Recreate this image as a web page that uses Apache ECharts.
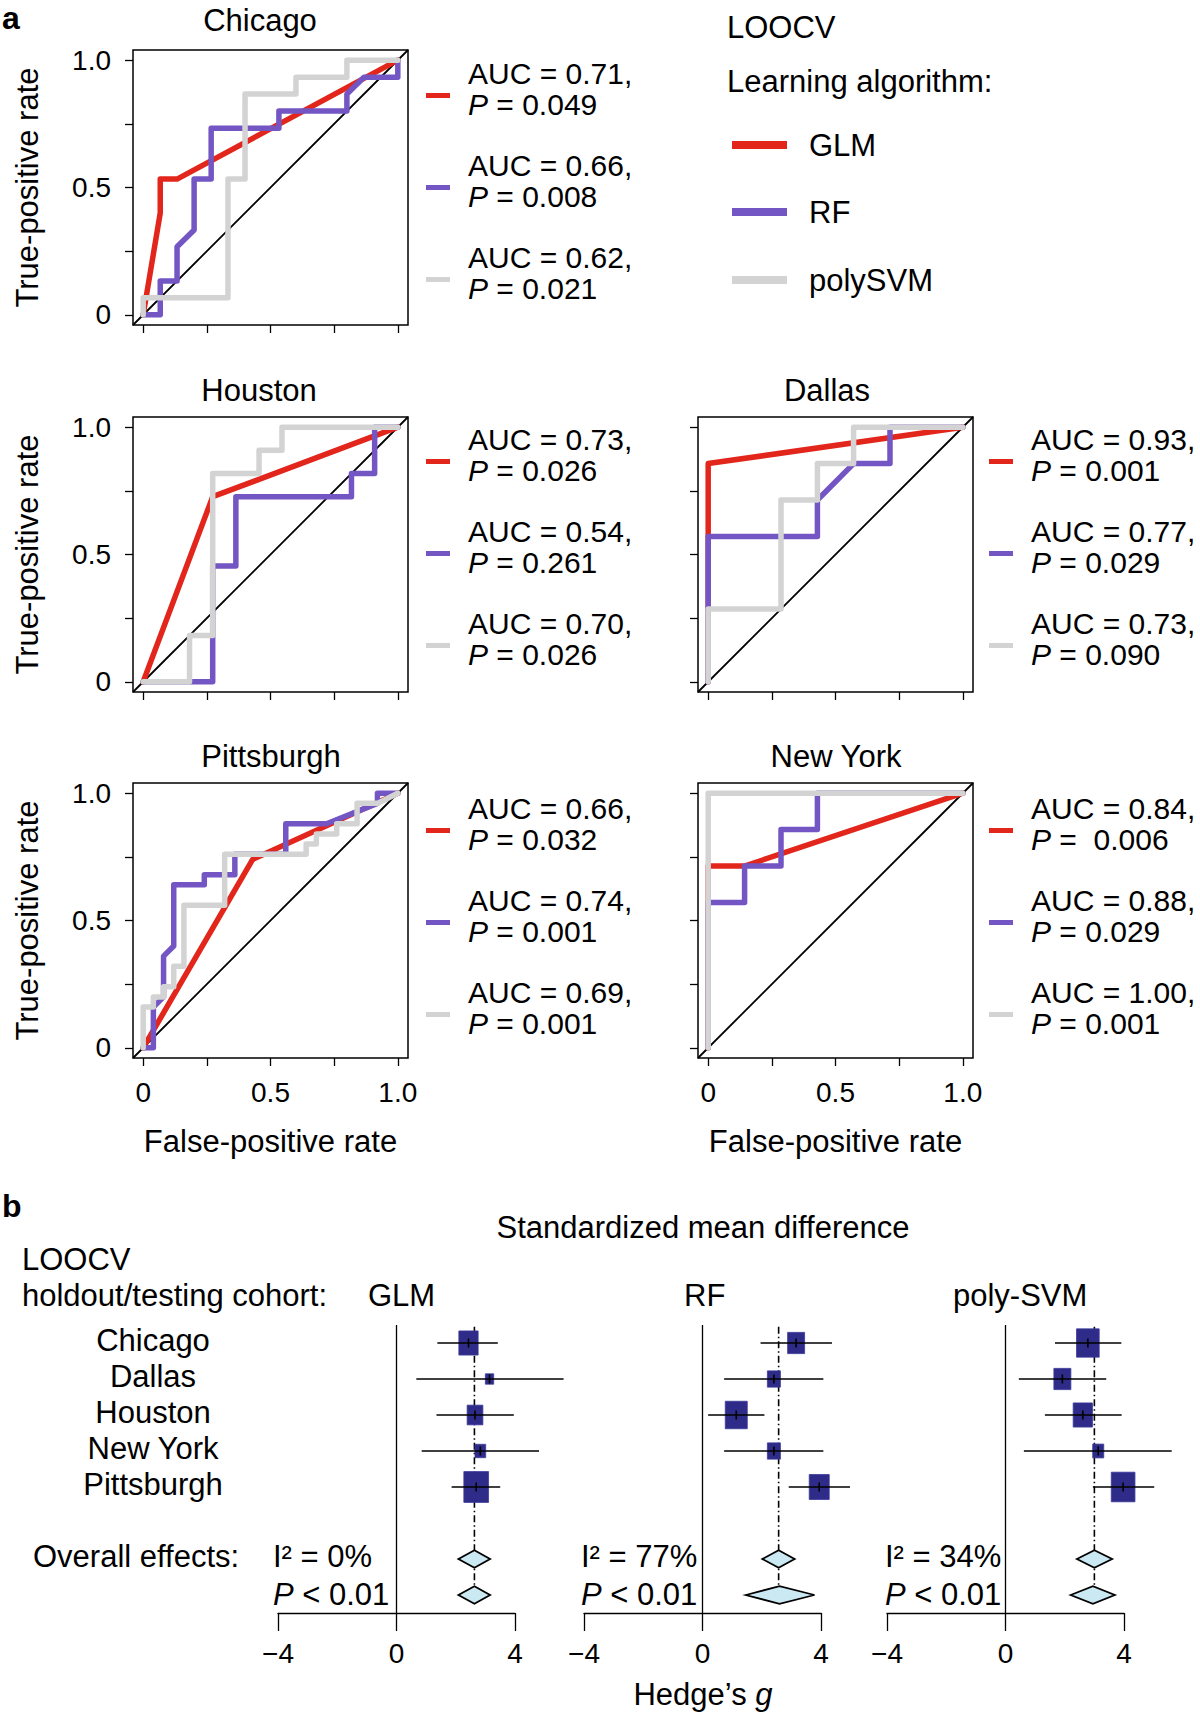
<!DOCTYPE html>
<html><head><meta charset="utf-8">
<script src="https://cdn.jsdelivr.net/npm/echarts@6/dist/echarts.min.js"></script>
<style>html,body{margin:0;padding:0;background:#fff}#c{width:1200px;height:1714px}</style>
</head><body><div id="c"></div>
<script>
// ---------------- DATA (panel a: ROC curves, [FPR, TPR]) ----------------
const rocCities = ['Chicago', 'Houston', 'Dallas', 'Pittsburgh', 'New York'];
const algorithms = ['GLM', 'RF', 'polySVM'];

const chicagoGLM = [[0,0],[0.067,0.4],[0.067,0.533],[0.133,0.533],[1,1]];
const chicagoRF  = [[0,0],[0.067,0],[0.067,0.133],[0.133,0.133],[0.133,0.267],[0.2,0.333],[0.2,0.533],[0.267,0.533],[0.267,0.733],[0.533,0.733],[0.533,0.8],[0.8,0.8],[0.8,0.867],[0.867,0.933],[1,0.933],[1,1]];
const chicagoSVM = [[0,0],[0,0.067],[0.333,0.067],[0.333,0.533],[0.4,0.533],[0.4,0.867],[0.6,0.867],[0.6,0.933],[0.8,0.933],[0.8,1],[1,1]];

const houstonGLM = [[0,0],[0.273,0.727],[1,1]];
const houstonRF  = [[0,0],[0.273,0],[0.273,0.455],[0.364,0.455],[0.364,0.727],[0.818,0.727],[0.818,0.818],[0.909,0.818],[0.909,1],[1,1]];
const houstonSVM = [[0,0],[0.182,0],[0.182,0.182],[0.273,0.182],[0.273,0.818],[0.455,0.818],[0.455,0.909],[0.545,0.909],[0.545,1],[1,1]];

const dallasGLM = [[0,0],[0,0.857],[1,1]];
const dallasRF  = [[0,0],[0,0.571],[0.429,0.571],[0.429,0.714],[0.571,0.857],[0.714,0.857],[0.714,1],[1,1]];
const dallasSVM = [[0,0],[0,0.286],[0.286,0.286],[0.286,0.714],[0.429,0.714],[0.429,0.857],[0.571,0.857],[0.571,1],[1,1]];

const pittsburghGLM = [[0,0],[0.43,0.74],[1,1]];
const pittsburghRF  = [[0,0],[0.04,0],[0.04,0.16],[0.08,0.2],[0.08,0.36],[0.12,0.4],[0.12,0.64],[0.24,0.64],[0.24,0.68],[0.36,0.68],[0.36,0.76],[0.56,0.76],[0.56,0.88],[0.72,0.88],[0.92,0.96],[0.92,1],[1,1]];
const pittsburghSVM = [[0,0],[0,0.16],[0.04,0.16],[0.04,0.2],[0.08,0.2],[0.08,0.24],[0.12,0.24],[0.12,0.32],[0.16,0.32],[0.16,0.56],[0.32,0.56],[0.32,0.76],[0.64,0.76],[0.64,0.8],[0.68,0.8],[0.68,0.84],[0.76,0.84],[0.76,0.88],[0.84,0.88],[0.84,0.96],[0.92,0.96],[1,1]];

const newYorkGLM = [[0,0],[0,0.714],[0.143,0.714],[1,1]];
const newYorkRF  = [[0,0],[0,0.571],[0.143,0.571],[0.143,0.714],[0.286,0.714],[0.286,0.857],[0.429,0.857],[0.429,1],[1,1]];
const newYorkSVM = [[0,0],[0,1],[1,1]];

const chicagoAUC = ['0.71','0.66','0.62'];    const chicagoP = ['0.049','0.008','0.021'];
const houstonAUC = ['0.73','0.54','0.70'];    const houstonP = ['0.026','0.261','0.026'];
const dallasAUC = ['0.93','0.77','0.73'];     const dallasP = ['0.001','0.029','0.090'];
const pittsburghAUC = ['0.66','0.74','0.69']; const pittsburghP = ['0.032','0.001','0.001'];
const newYorkAUC = ['0.84','0.88','1.00'];    const newYorkP = [' 0.006','0.029','0.001'];

const rocTickValues = [0, 0.25, 0.5, 0.75, 1];
const rocLabelValues = [0, 0.5, 1];

// ---------------- DATA (panel b: forest plots, Hedge's g) ----------------
const cohorts = ['Chicago', 'Dallas', 'Houston', 'New York', 'Pittsburgh'];
const forestModels = ['GLM', 'RF', 'poly-SVM'];
const glmEffect = [2.43, 3.14, 2.65, 2.83, 2.69];
const glmLower  = [1.38, 0.67, 1.35, 0.85, 1.86];
const glmUpper  = [3.42, 5.64, 3.96, 4.81, 3.50];
const glmWeight = [26.3, 4.9, 17.5, 8.1, 43.1];
const rfEffect  = [3.16, 2.41, 1.14, 2.41, 3.94];
const rfLower   = [1.96, 0.73, 0.19, 0.73, 2.91];
const rfUpper   = [4.37, 4.08, 2.09, 4.08, 4.98];
const rfWeight  = [20.4, 12.0, 34.2, 12.0, 28.3];
const svmEffect = [2.78, 1.92, 2.61, 3.13, 3.97];
const svmLower  = [1.67, 0.45, 1.33, 0.62, 2.95];
const svmUpper  = [3.91, 3.40, 3.92, 5.61, 5.02];
const svmWeight = [36.4, 20.4, 26.3, 8.6, 39.7];
// overall effects: [lower, estimate, upper] for fixed and random models
const glmOverall = [[2.09, 2.63, 3.16], [2.09, 2.63, 3.16]];
const rfOverall  = [[2.02, 2.57, 3.11], [1.46, 2.60, 3.78]];
const svmOverall = [[2.41, 3.00, 3.60], [2.20, 2.95, 3.69]];
const heterogeneity = ['0%', '77%', '34%'];

// ---------------- STYLE / LAYOUT ----------------
const FF = '"Liberation Sans", Arial, Helvetica, sans-serif';
const FS = 31;
const algColors = ['#e2261c', '#7356c3', '#d3d3d3'];
const boxFill = '#2e2c88';
const diamondFill = '#cbe9f3';

const rocGrids = [
  {left: 133, top: 50},   // Chicago
  {left: 133, top: 417},  // Houston
  {left: 698, top: 417},  // Dallas
  {left: 133, top: 783},  // Pittsburgh
  {left: 698, top: 783}   // New York
];
const rocSize = 275;
const rocTitles = [[260, 20], [259, 390], [827, 390], [271, 756], [836, 756]];
const legendPos = [[426, 58], [426, 424], [989, 424], [426, 793], [989, 793]];
const forestLefts = [278, 584, 887];
const forestTop = 1325, forestRowH = 36, forestWidth = 237;

const rocSeriesData = [
  [chicagoGLM, chicagoRF, chicagoSVM],
  [houstonGLM, houstonRF, houstonSVM],
  [dallasGLM, dallasRF, dallasSVM],
  [pittsburghGLM, pittsburghRF, pittsburghSVM],
  [newYorkGLM, newYorkRF, newYorkSVM]
];
const rocAUC = [chicagoAUC, houstonAUC, dallasAUC, pittsburghAUC, newYorkAUC];
const rocP = [chicagoP, houstonP, dallasP, pittsburghP, newYorkP];

const forestStudies = [
  [glmEffect, glmLower, glmUpper, glmWeight],
  [rfEffect, rfLower, rfUpper, rfWeight],
  [svmEffect, svmLower, svmUpper, svmWeight]
];
const forestOverall = [glmOverall, rfOverall, svmOverall];

// ---------------- BUILD OPTION ----------------
const grid = [], xAxis = [], yAxis = [], series = [], legend = [], graphic = [];
const font = (extra) => (extra ? extra + ' ' : '') + FS + 'px ' + FF;

function rocLabel(v) { return v === 0 ? '0' : v.toFixed(1); }

rocCities.forEach((city, i) => {
  const g = rocGrids[i];
  const bottomRow = i >= 3;
  const leftCol = (i === 0 || i === 1 || i === 3);
  grid.push({left: g.left, top: g.top, width: rocSize, height: rocSize,
    show: true, borderColor: '#000', borderWidth: 1.5, backgroundColor: 'transparent'});
  xAxis.push({
    type: 'value', gridIndex: i, min: -0.04, max: 1.04, position: 'bottom',
    axisLine: {show: false, onZero: false}, splitLine: {show: false},
    axisTick: {show: true, inside: false, length: 8, lineStyle: {color: '#000', width: 1.3}, customValues: rocTickValues},
    axisLabel: {show: bottomRow, customValues: rocLabelValues, formatter: rocLabel, fontSize: 28, color: '#000', fontFamily: FF, margin: 20},
    name: bottomRow ? 'False-positive rate' : '', nameLocation: 'middle', nameGap: 68,
    nameTextStyle: {fontSize: FS, color: '#000', fontFamily: FF}
  });
  yAxis.push({
    type: 'value', gridIndex: i, min: -0.04, max: 1.04, position: 'left',
    axisLine: {show: false, onZero: false}, splitLine: {show: false},
    axisTick: {show: true, inside: false, length: 8, lineStyle: {color: '#000', width: 1.3}, customValues: rocTickValues},
    axisLabel: {show: leftCol, customValues: rocLabelValues, formatter: rocLabel, fontSize: 28, color: '#000', fontFamily: FF, margin: 22},
    name: leftCol ? 'True-positive rate' : '', nameLocation: 'middle', nameGap: 90,
    nameTextStyle: {fontSize: FS, color: '#000', fontFamily: FF}
  });
  // diagonal reference
  series.push({type: 'line', name: 'diag' + i, xAxisIndex: i, yAxisIndex: i,
    data: [[-0.04, -0.04], [1.04, 1.04]], showSymbol: false, silent: true, z: 1,
    lineStyle: {color: '#000', width: 1.8}, itemStyle: {color: '#000'}});
  const names = [];
  algorithms.forEach((alg, j) => {
    const nm = 'AUC = ' + rocAUC[i][j] + ',\nP = ' + rocP[i][j];
    names.push(nm);
    series.push({type: 'line', name: nm, xAxisIndex: i, yAxisIndex: i,
      data: rocSeriesData[i][j], showSymbol: false, silent: true, z: 2 + j,
      color: algColors[j],
      lineStyle: {color: algColors[j], width: 5.5, cap: 'round', join: 'round'}});
  });
  legend.push({
    data: names, orient: 'vertical', left: legendPos[i][0], top: legendPos[i][1],
    padding: 0, itemGap: 17, itemWidth: 24, itemHeight: 5, icon: 'rect', selectedMode: false,
    formatter: n => n.replace('\nP', '\n{i|P}'),
    textStyle: {fontSize: 30, lineHeight: 31, color: '#000', fontFamily: FF, padding: [0, 0, 13, 13],
      rich: {i: {fontStyle: 'italic', fontSize: 30, lineHeight: 31, color: '#000', fontFamily: FF}}}
  });
  graphic.push({type: 'text', style: {text: city, x: rocTitles[i][0], y: rocTitles[i][1],
    font: font(), fill: '#000', align: 'center', verticalAlign: 'middle'}});
});

// Algorithm key (top right)
graphic.push({type: 'text', style: {text: 'LOOCV', x: 727, y: 27, font: font(), fill: '#000', verticalAlign: 'middle'}});
graphic.push({type: 'text', style: {text: 'Learning algorithm:', x: 727, y: 81, font: font(), fill: '#000', verticalAlign: 'middle'}});
const keyY = [145, 212, 280];
algorithms.forEach((alg, j) => {
  graphic.push({type: 'line', shape: {x1: 732, y1: keyY[j], x2: 787, y2: keyY[j]}, style: {stroke: algColors[j], lineWidth: 8}});
  graphic.push({type: 'text', style: {text: alg, x: 809, y: keyY[j], font: font(), fill: '#000', verticalAlign: 'middle'}});
});

// Panel letters
graphic.push({type: 'text', style: {text: 'a', x: 2, y: 18, font: 'bold 32px ' + FF, fill: '#000', verticalAlign: 'middle'}});
graphic.push({type: 'text', style: {text: 'b', x: 2, y: 1206, font: 'bold 32px ' + FF, fill: '#000', verticalAlign: 'middle'}});

// ---------------- FOREST PLOTS ----------------
function renderStudy(params, api) {
  const y = api.value(3);
  const c = api.coord([api.value(0), y]);
  const lo = api.coord([api.value(1), y]);
  const hi = api.coord([api.value(2), y]);
  const w = 3.76 * Math.sqrt(api.value(4));
  const h = 1.25 * w;
  return {type: 'group', children: [
    {type: 'rect', shape: {x: c[0] - w / 2, y: c[1] - h / 2, width: w, height: h}, style: {fill: boxFill, stroke: '#3b3a9a', lineWidth: 0.8}},
    {type: 'line', shape: {x1: lo[0], y1: c[1], x2: hi[0], y2: c[1]}, style: {stroke: '#000', lineWidth: 1.6}},
    {type: 'line', shape: {x1: c[0], y1: c[1] - 4.5, x2: c[0], y2: c[1] + 4.5}, style: {stroke: '#000', lineWidth: 1.6}}
  ]};
}
function renderDiamond(params, api) {
  const y = api.value(3);
  const lo = api.coord([api.value(0), y]);
  const mu = api.coord([api.value(1), y]);
  const hi = api.coord([api.value(2), y]);
  const hh = 8.8;
  return {type: 'polygon', shape: {points: [[lo[0], mu[1]], [mu[0], mu[1] - hh], [hi[0], mu[1]], [mu[0], mu[1] + hh]]},
    style: {fill: diamondFill, stroke: '#000', lineWidth: 1.8}};
}
function minusFmt(v) { return v < 0 ? '\u2212' + Math.abs(v) : String(v); }

const studyRows = [0, 1, 2, 3, 4];
const overallRows = [6, 7];

forestModels.forEach((model, k) => {
  const gi = rocCities.length + k;
  grid.push({left: forestLefts[k], top: forestTop, width: forestWidth, height: forestRowH * 8, show: false});
  xAxis.push({type: 'value', gridIndex: gi, min: -4, max: 4, interval: 4, position: 'bottom',
    axisLine: {show: true, onZero: false, lineStyle: {color: '#000', width: 1.3}},
    axisTick: {show: true, inside: false, length: 18, lineStyle: {color: '#000', width: 1.3}},
    splitLine: {show: false},
    axisLabel: {formatter: minusFmt, fontSize: 28, color: '#000', fontFamily: FF, margin: 26, showMinLabel: true, showMaxLabel: true}});
  yAxis.push({type: 'value', gridIndex: gi, min: -0.5, max: 7.5, inverse: true, show: false});
  // zero line
  series.push({type: 'line', xAxisIndex: gi, yAxisIndex: gi, data: [[0, -0.5], [0, 7.5]], showSymbol: false, silent: true, z: 1,
    lineStyle: {color: '#000', width: 1.3}, itemStyle: {color: '#000'}});
  // overall effect reference line
  const mu = forestOverall[k][0][1];
  series.push({type: 'line', xAxisIndex: gi, yAxisIndex: gi, data: [[mu, -0.45], [mu, 7]], showSymbol: false, silent: true, z: 2,
    lineStyle: {color: '#000', width: 1.6, type: [7, 3, 1.5, 3]}, itemStyle: {color: '#000'}});
  const st = forestStudies[k];
  series.push({type: 'custom', xAxisIndex: gi, yAxisIndex: gi, z: 3, silent: true, clip: false,
    renderItem: renderStudy,
    encode: {x: [0, 1, 2], y: 3},
    data: cohorts.map((c, r) => [st[0][r], st[1][r], st[2][r], studyRows[r], st[3][r]])});
  series.push({type: 'custom', xAxisIndex: gi, yAxisIndex: gi, z: 4, silent: true, clip: false,
    renderItem: renderDiamond,
    encode: {x: [0, 1, 2], y: 3},
    data: forestOverall[k].map((o, r) => [o[0], o[1], o[2], overallRows[r]])});
});

// Forest text
const rowY = r => forestTop + (r + 0.5) * forestRowH;
cohorts.forEach((c, r) => {
  graphic.push({type: 'text', style: {text: c, x: 153, y: rowY(r) - 3, font: font(), fill: '#000', align: 'center', verticalAlign: 'middle'}});
});
graphic.push({type: 'text', style: {text: 'Standardized mean difference', x: 703, y: 1227, font: font(), fill: '#000', align: 'center', verticalAlign: 'middle'}});
graphic.push({type: 'text', style: {text: 'LOOCV', x: 22, y: 1259, font: font(), fill: '#000', verticalAlign: 'middle'}});
graphic.push({type: 'text', style: {text: 'holdout/testing cohort:', x: 22, y: 1295, font: font(), fill: '#000', verticalAlign: 'middle'}});
const modelTitleX = [368, 684, 953];
forestModels.forEach((m, k) => {
  graphic.push({type: 'text', style: {text: m, x: modelTitleX[k], y: 1295, font: font(), fill: '#000', verticalAlign: 'middle'}});
});
graphic.push({type: 'text', style: {text: 'Overall effects:', x: 33, y: rowY(6) - 3, font: font(), fill: '#000', verticalAlign: 'middle'}});
const hetX = [273, 581, 885];
forestModels.forEach((m, k) => {
  graphic.push({type: 'text', style: {text: 'I\u00B2 = ' + heterogeneity[k], x: hetX[k], y: rowY(6) - 3, font: font(), fill: '#000', verticalAlign: 'middle'}});
  graphic.push({type: 'text', style: {text: '{i|P} < 0.01', x: hetX[k], y: rowY(7) - 1, font: font(), fill: '#000', verticalAlign: 'middle',
    rich: {i: {font: font('italic'), fill: '#000'}}}});
});
graphic.push({type: 'text', style: {text: 'Hedge\u2019s {i|g}', x: 703, y: 1694, font: font(), fill: '#000', align: 'center', verticalAlign: 'middle',
  rich: {i: {font: font('italic'), fill: '#000'}}}});

const chart = echarts.init(document.getElementById('c'), null, {renderer: 'svg', width: 1200, height: 1714});
chart.setOption({
  backgroundColor: '#fff',
  animation: false,
  textStyle: {fontFamily: FF},
  grid, xAxis, yAxis, series, legend, graphic
});
</script></body></html>
